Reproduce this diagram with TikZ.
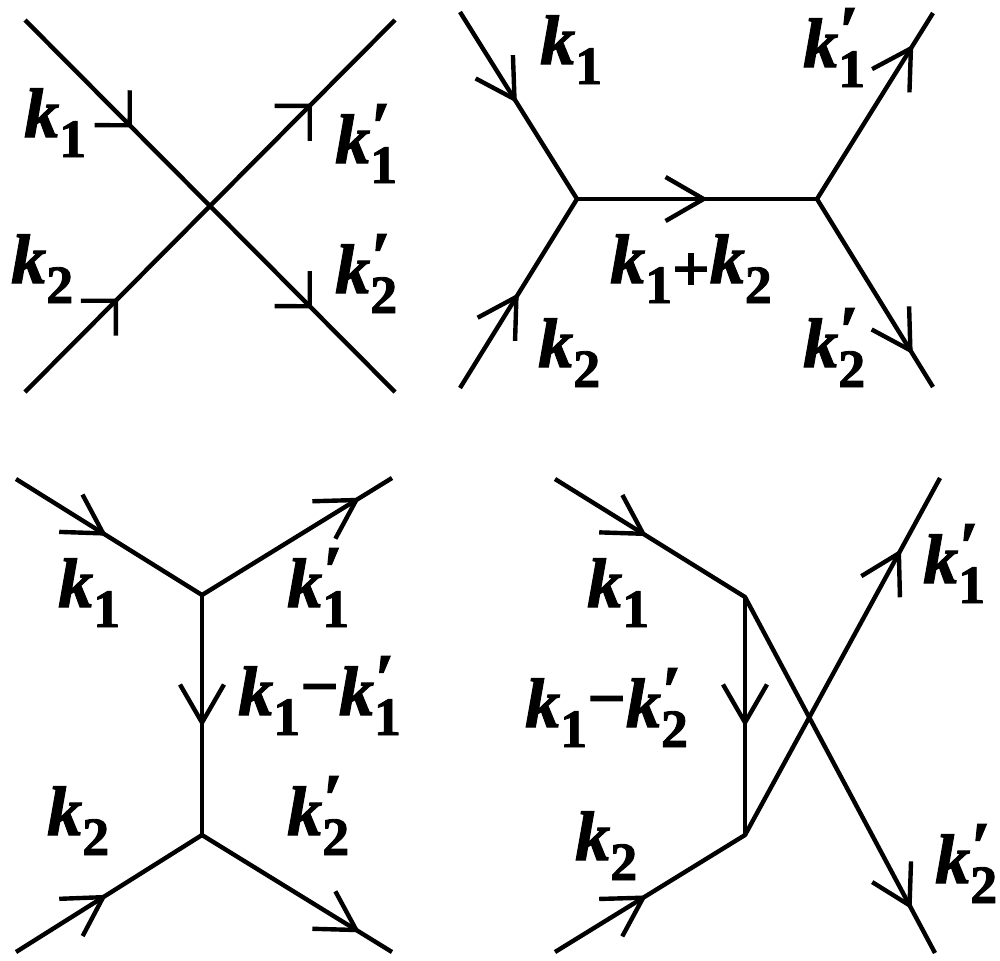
\documentclass[tikz,border=0pt]{standalone}
\usepackage{fontspec}
\setmainfont{Liberation Serif}
\newfontfamily\lf{Liberation Serif}[BoldFeatures={FakeBold=1.6},BoldItalicFeatures={FakeBold=1.6}]
\usetikzlibrary{arrows.meta,decorations.markings}

\newcommand\kk{{\fontsize{35}{35}\selectfont\lf\bfseries\itshape k}}
\newcommand\ksub[1]{\raisebox{-10pt}{\fontsize{27}{27}\selectfont\lf\bfseries #1}}
\newcommand\kpr{\rlap{\raisebox{6.5pt}{\fontsize{35}{35}\selectfont\lf\bfseries\itshape ′}}}
\newcommand\K[1]{\kk\ksub{#1}}
\newcommand\Kp[1]{\kk\kpr\ksub{#1}}
\newcommand\kminus{\raisebox{3pt}{\fontsize{34}{34}\selectfont\lf\bfseries −}}
\newcommand\kplus{\raisebox{-4pt}{\fontsize{33}{33}\selectfont\lf\bfseries +}}

\begin{document}
\begin{tikzpicture}[x=0.5pt,y=-0.5pt,line width=2.2pt,
  lbl/.style={inner sep=0pt,anchor=base west},
  arr/.style={postaction={decorate},decoration={markings,
     mark=at position #1 with {\arrow{Straight Barb[angle=60:22pt]}}}},
  arrx/.style={postaction={decorate},decoration={markings,
     mark=at position #1 with {\arrow{Straight Barb[angle=90:17.5pt]}}}},
  vtx/.style={circle,fill,inner sep=0pt,minimum size=2.2pt}]
\useasboundingbox (0,0) rectangle (1000,960);

% ---------- diagram 1 ----------
\coordinate (a1) at (25,20);
\coordinate (a2) at (395,392);
\coordinate (b1) at (25,392);
\coordinate (b2) at (395,20);
\coordinate (c1) at (210,206);
\draw[arrx=0.578] (a1) -- (c1);
\draw[arrx=0.551] (c1) -- (a2);
\draw[arrx=0.503] (b1) -- (c1);
\draw[arrx=0.551] (c1) -- (b2);
\node[lbl] (l1a) at (22,137) {\K{1}};
\node[lbl] (l1b) at (333,163) {\Kp{1}};
\node[lbl] (l1c) at (9,283) {\K{2}};
\node[lbl] (l1d) at (333,293) {\Kp{2}};

% ---------- diagram 2 ----------
\node[vtx] (v1) at (577,199) {};
\node[vtx] (v2) at (817,199) {};
\coordinate (p1) at (460,12);
\coordinate (p2) at (460,388);
\coordinate (p3) at (933,13);
\coordinate (p4) at (933,387);
\draw[arr=0.487] (p1) -- (v1.center);
\draw[arr=0.503] (p2) -- (v1.center);
\draw[arr=0.546] (v1.center) -- (v2.center);
\draw[arr=0.83] (v2.center) -- (p3);
\draw[arr=0.825] (v2.center) -- (p4);
\node[lbl] (l2a) at (538,64) {\K{1}};
\node[lbl] (l2b) at (536,367) {\K{2}};
\node[lbl] (l2c) at (608,283) {\K{1}\kplus\K{2}};
\node[lbl] (l2d) at (801,67) {\Kp{1}};
\node[lbl] (l2e) at (801,367) {\Kp{2}};

% ---------- diagram 3 ----------
\node[vtx] (v3) at (202,595) {};
\node[vtx] (v4) at (202,835) {};
\coordinate (q1) at (16,479);
\coordinate (q2) at (392,478);
\coordinate (q3) at (16,952);
\coordinate (q4) at (392,952);
\draw[arr=0.489] (q1) -- (v3.center);
\draw[arr=0.832] (v3.center) -- (q2);
\draw[arr=0.55] (v3.center) -- (v4.center);
\draw[arr=0.489] (q3) -- (v4.center);
\draw[arr=0.832] (v4.center) -- (q4);
\node[lbl] (l3a) at (56,607) {\K{1}};
\node[lbl] (l3b) at (285,607) {\Kp{1}};
\node[lbl] (l3c) at (236,715) {\K{1}\kminus\Kp{1}};
\node[lbl] (l3d) at (45,835) {\K{2}};
\node[lbl] (l3e) at (285,835) {\Kp{2}};

% ---------- diagram 4 ----------
\node[vtx] (v5) at (745,597) {};
\node[vtx] (v6) at (745,835) {};
\coordinate (r1) at (555,479);
\coordinate (r2) at (940,478);
\coordinate (r3) at (555,952);
\coordinate (r4) at (935,953);
\draw[arr=0.484] (r1) -- (v5.center);
\draw[arr=0.546] (v5.center) -- (v6.center);
\draw[arr=0.484] (r3) -- (v6.center);
\draw[arr=0.80] (v6.center) -- (r2);
\draw[arr=0.877] (v5.center) -- (r4);
\node[lbl] (l4a) at (585,607) {\K{1}};
\node[lbl] (l4b) at (523,727) {\K{1}\kminus\Kp{2}};
\node[lbl] (l4c) at (573,860) {\K{2}};
\node[lbl] (l4d) at (921,583) {\Kp{1}};
\node[lbl] (l4e) at (933,883) {\Kp{2}};
\end{tikzpicture}
\end{document}
